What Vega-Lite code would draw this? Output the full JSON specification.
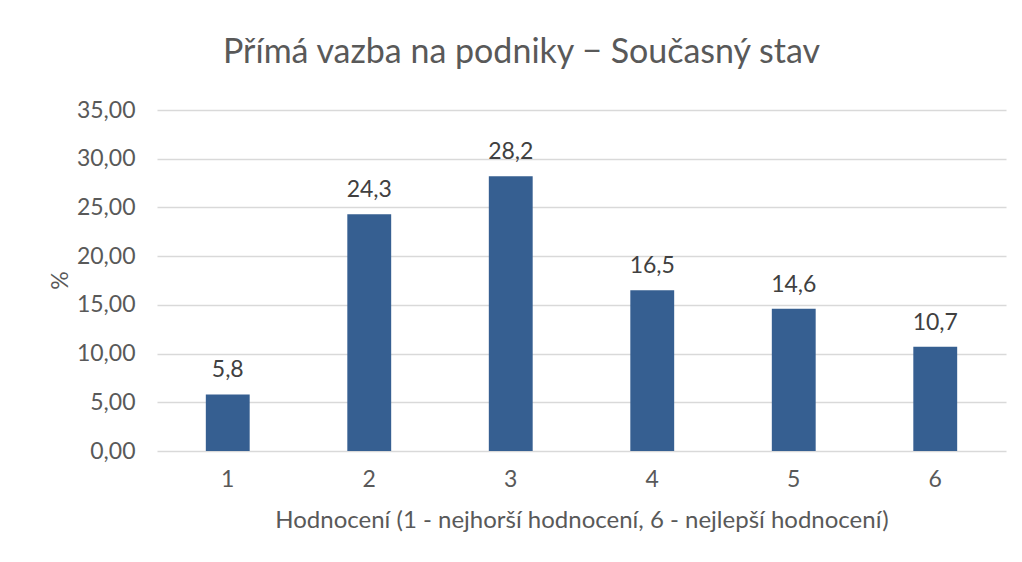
{
  "$schema": "https://vega.github.io/schema/vega-lite/v6.json",
  "width": 849,
  "height": 341,
  "autosize": {"type": "none"},
  "padding": {"left": 157, "top": 110, "right": 16, "bottom": 111},
  "background": "white",
  "title": {
    "text": "Přímá vazba na podniky − Současný stav",
    "anchor": "middle",
    "dx": -60,
    "offset": 2,
    "baseline": "alphabetic",
    "font": "Lato",
    "fontSize": 34,
    "fontWeight": "normal",
    "color": "#595959"
  },
  "config": {
    "view": {"stroke": null},
    "font": "Lato",
    "locale": {"number": {"decimal": ",", "thousands": " ", "grouping": [3], "currency": ["", " Kč"]}}
  },
  "data": {
    "values": [
      {"hodnoceni": "1", "pct": 5.8},
      {"hodnoceni": "2", "pct": 24.3},
      {"hodnoceni": "3", "pct": 28.2},
      {"hodnoceni": "4", "pct": 16.5},
      {"hodnoceni": "5", "pct": 14.6},
      {"hodnoceni": "6", "pct": 10.7}
    ]
  },
  "encoding": {
    "x": {
      "field": "hodnoceni",
      "type": "ordinal",
      "scale": {"paddingInner": 0.69, "paddingOuter": 0.345},
      "axis": {
        "title": "Hodnocení (1 - nejhorší hodnocení, 6 - nejlepší hodnocení)",
        "labelAngle": 0,
        "labelFont": "Lato",
        "labelFontSize": 23,
        "labelColor": "#595959",
        "labelPadding": 17,
        "ticks": false,
        "domain": false,
        "titleFont": "Lato",
        "titleFontSize": 24,
        "titleFontWeight": "normal",
        "titleColor": "#595959",
        "titleY": 57
      }
    },
    "y": {
      "field": "pct",
      "type": "quantitative",
      "scale": {"domain": [0, 35], "nice": false},
      "axis": {
        "title": "%",
        "values": [0, 5, 10, 15, 20, 25, 30, 35],
        "format": ".2f",
        "labelFont": "Lato",
        "labelFontSize": 23,
        "labelColor": "#595959",
        "labelPadding": 22,
        "ticks": false,
        "domain": false,
        "gridColor": "#D9D9D9",
        "gridWidth": 1.3,
        "titleFont": "Lato",
        "titleFontSize": 23,
        "titleFontWeight": "normal",
        "titleColor": "#595959",
        "titleAngle": -90,
        "titleX": -97,
        "titleY": 170,
        "titleBaseline": "middle",
        "titleAlign": "center"
      }
    }
  },
  "layer": [
    {"mark": {"type": "bar", "color": "#365F91"}, "encoding": {"y": {"field": "pct", "type": "quantitative"}}},
    {
      "mark": {"type": "text", "dy": -17, "baseline": "alphabetic", "font": "Lato", "fontSize": 23, "color": "#404040"},
      "encoding": {
        "text": {"field": "pct", "type": "quantitative", "format": ".1f"},
        "y": {"field": "pct", "type": "quantitative"}
      }
    }
  ]
}
